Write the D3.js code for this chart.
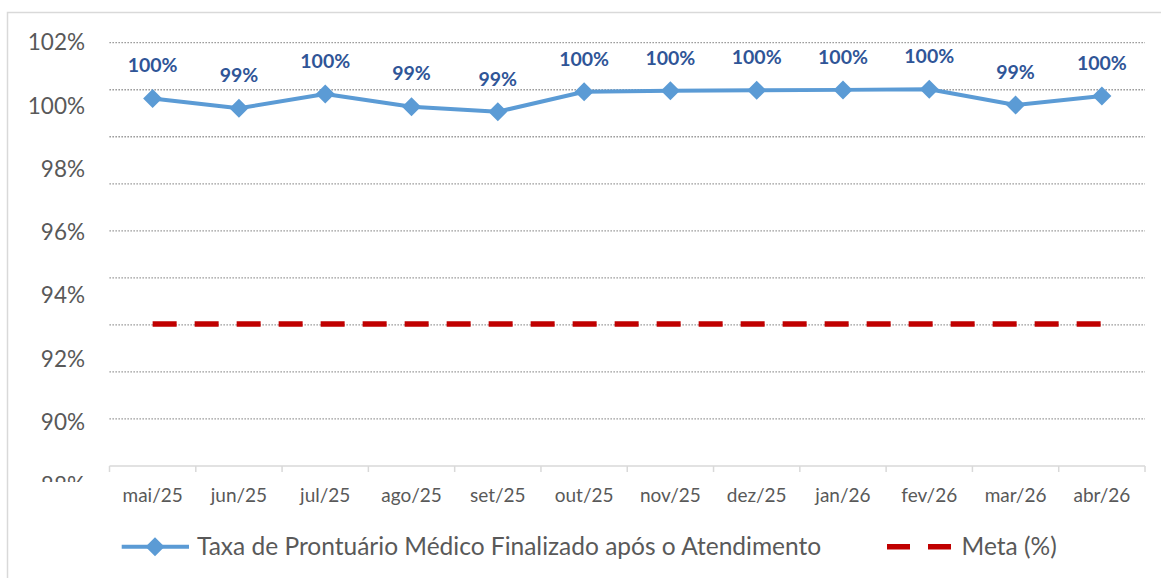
<!DOCTYPE html>
<html>
<head>
<meta charset="utf-8">
<script src="https://cdnjs.cloudflare.com/ajax/libs/d3/7.8.5/d3.min.js"></script>
<style>
  body { margin: 0; background: #fff; }
  text { font-family: Lato, "Open Sans", sans-serif; }
</style>
</head>
<body>
<div id="chart-area"></div>
<script>
// data
const months = ["mai/25", "jun/25", "jul/25", "ago/25", "set/25", "out/25",
  "nov/25", "dez/25", "jan/26", "fev/26", "mar/26", "abr/26"]
const taxa = [100.23, 99.92, 100.37, 99.97, 99.81, 100.44,
  100.47, 100.49, 100.50, 100.52, 100.02, 100.31]
const taxaLabels = ["100%", "99%", "100%", "99%", "99%", "100%",
  "100%", "100%", "100%", "100%", "99%", "100%"]
const meta = [93.1, 93.1, 93.1, 93.1, 93.1, 93.1, 93.1, 93.1, 93.1, 93.1, 93.1, 93.1]
const yTicks = [88, 90, 92, 94, 96, 98, 100, 102]
const seriesNames = ["Taxa de Prontuário Médico Finalizado após o Atendimento", "Meta (%)"]

const W = 1161, H = 578
const PLOT = { LEFT: 109.5, RIGHT: 1145, TOP: 42.7, BOTTOM: 466 }

const svg = d3.select("#chart-area").append("svg")
  .attr("width", W)
  .attr("height", H)

// chart frame
svg.append("rect")
  .attr("x", 7.5).attr("y", 12.5)
  .attr("width", 1170).attr("height", 620)
  .attr("fill", "none")
  .attr("stroke", "#d9d9d9")
  .attr("stroke-width", 1.5)

// scales
const x = d3.scaleBand()
  .domain(months)
  .range([PLOT.LEFT, PLOT.RIGHT])
const y = d3.scaleLinear()
  .domain([88, 102])
  .range([485.5, 42.4])
const grid = d3.scaleLinear()
  .domain([0, 9])
  .range([PLOT.BOTTOM, PLOT.TOP])

// gridlines
svg.append("g").selectAll("line")
  .data(d3.range(1, 10))
  .enter().append("line")
  .attr("x1", PLOT.LEFT).attr("x2", PLOT.RIGHT)
  .attr("y1", d => grid(d)).attr("y2", d => grid(d))
  .attr("stroke", "#858585")
  .attr("stroke-width", 1.3)
  .attr("stroke-dasharray", "1.3,1.7")

// y labels (bottom one clipped like the original)
svg.append("clipPath").attr("id", "yclip")
  .append("rect").attr("x", 0).attr("y", 0).attr("width", 100).attr("height", 482)
svg.append("g")
  .attr("clip-path", "url(#yclip)")
  .selectAll("text")
  .data(yTicks)
  .enter().append("text")
  .attr("x", 85)
  .attr("y", d => y(d))
  .attr("dy", "0.35em")
  .attr("text-anchor", "end")
  .attr("font-size", "22.5px")
  .attr("fill", "#595959")
  .text(d => d + "%")

// x axis
svg.append("line")
  .attr("x1", PLOT.LEFT).attr("x2", PLOT.RIGHT)
  .attr("y1", PLOT.BOTTOM).attr("y2", PLOT.BOTTOM)
  .attr("stroke", "#d9d9d9").attr("stroke-width", 1.5)
const bounds = months.map(m => x(m)).concat([x.range()[1]])
svg.append("g").selectAll("line")
  .data(bounds)
  .enter().append("line")
  .attr("x1", d => d).attr("x2", d => d)
  .attr("y1", PLOT.BOTTOM).attr("y2", PLOT.BOTTOM + 6)
  .attr("stroke", "#d9d9d9").attr("stroke-width", 1.5)

const xAxisCall = d3.axisBottom(x).tickSize(0).tickPadding(0)
const xAxis = svg.append("g")
  .attr("transform", `translate(0, ${PLOT.BOTTOM})`)
  .call(xAxisCall)
xAxis.select(".domain").remove()
xAxis.selectAll("text")
  .attr("y", 29)
  .attr("dy", "0.35em")
  .attr("font-family", "Lato, sans-serif")
  .attr("font-size", "19px")
  .attr("fill", "#595959")

// meta line
const cx = d => x(d) + x.bandwidth() / 2
svg.append("path")
  .datum(meta)
  .attr("fill", "none")
  .attr("stroke", "#c00000")
  .attr("stroke-width", 5.5)
  .attr("stroke-dasharray", "24,18")
  .attr("d", d3.line().x((d, i) => cx(months[i])).y(d => y(d)))

// taxa line
svg.append("path")
  .datum(taxa)
  .attr("fill", "none")
  .attr("stroke", "#5b9bd5")
  .attr("stroke-width", 4)
  .attr("stroke-linejoin", "round")
  .attr("d", d3.line().x((d, i) => cx(months[i])).y(d => y(d)))

const diamond = "M0,-9.5L9.5,0L0,9.5L-9.5,0Z"
svg.append("g").selectAll("path")
  .data(taxa)
  .enter().append("path")
  .attr("d", diamond)
  .attr("transform", (d, i) => `translate(${cx(months[i])}, ${y(d)})`)
  .attr("fill", "#5b9bd5")

// data labels
svg.append("g").selectAll("text")
  .data(taxa)
  .enter().append("text")
  .attr("x", (d, i) => cx(months[i]))
  .attr("y", d => y(d) - 33)
  .attr("dy", "0.35em")
  .attr("text-anchor", "middle")
  .attr("font-size", "19.5px")
  .attr("font-weight", "bold")
  .attr("fill", "#2f5597")
  .text((d, i) => taxaLabels[i])

// legend
const legend = svg.append("g").attr("transform", "translate(0, 546.7)")
legend.append("line")
  .attr("x1", 121.7).attr("x2", 189)
  .attr("stroke", "#5b9bd5").attr("stroke-width", 4)
legend.append("path")
  .attr("d", diamond)
  .attr("transform", "translate(155, 0)")
  .attr("fill", "#5b9bd5")
legend.append("text")
  .attr("x", 197).attr("dy", "0.35em")
  .attr("font-size", "24.5px")
  .attr("fill", "#595959")
  .text(seriesNames[0])
legend.append("line")
  .attr("x1", 887).attr("x2", 951)
  .attr("stroke", "#c00000").attr("stroke-width", 5.5)
  .attr("stroke-dasharray", "23,18")
legend.append("text")
  .attr("x", 961.6).attr("dy", "0.35em")
  .attr("font-size", "24.5px")
  .attr("fill", "#595959")
  .text(seriesNames[1])
</script>
</body>
</html>
